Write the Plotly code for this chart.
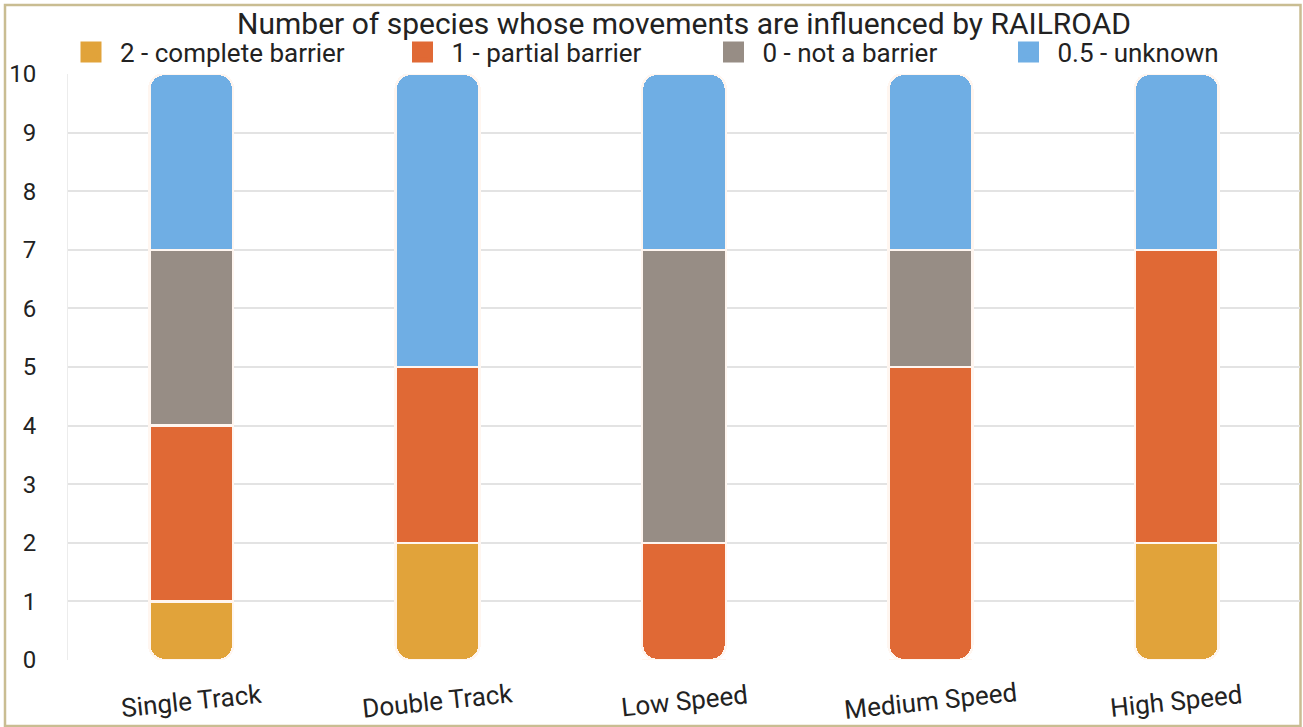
import plotly.graph_objects as go

# Railroad categories and number of species per barrier class
categories = ["Single Track", "Double Track", "Low Speed", "Medium Speed", "High Speed"]
complete_barrier = [1, 2, 0, 0, 2]
partial_barrier = [3, 3, 2, 5, 5]
not_a_barrier = [3, 0, 5, 2, 0]
unknown = [3, 5, 3, 3, 3]

series_names = ["2 - complete barrier", "1 - partial barrier", "0 - not a barrier", "0.5 - unknown"]
series_values = [complete_barrier, partial_barrier, not_a_barrier, unknown]
series_colors = ["#E1A33A", "#E06935", "#978D85", "#6FAEE4"]

y_ticks = list(range(0, 11))
Y_MAX = 10

FONT = "Roboto"
TEXT = "#222222"
BAR_WIDTH = 0.34
SEP_COLOR = "rgba(255,246,240,1)"
SEP_WIDTH = 2.5
CLEAR = "rgba(0,0,0,0)"

# plot area in pixels
W, H = 1303, 727
ML, MR, MT, MB = 68, 3, 74, 67
PW = W - ML - MR
PH = H - MT - MB

fig = go.Figure()
n = len(categories)

# which class opens each column at the bottom
bottom_series = []
for i in range(n):
    for k, vals in enumerate(series_values):
        if vals[i] > 0:
            bottom_series.append(k)
            break

# main stack (rounded at the top); the bottom piece of each column is
# left clear here and drawn by the downward stack below
for k, (name, vals, color) in enumerate(zip(series_names, series_values, series_colors)):
    is_bottom = [bottom_series[i] == k for i in range(n)]
    fig.add_trace(go.Bar(
        x=categories, y=vals, width=BAR_WIDTH,
        marker=dict(
            color=[CLEAR if b else color for b in is_bottom],
            line=dict(color=SEP_COLOR, width=[0 if b else SEP_WIDTH for b in is_bottom]),
        ),
        name=name, showlegend=False, hoverinfo="skip",
        xaxis="x", yaxis="y",
    ))

# downward stack on a reversed twin axis, so the bottom piece is the outer end
bottom_values = [series_values[bottom_series[i]][i] for i in range(n)]
fig.add_trace(go.Bar(
    x=categories, y=[Y_MAX - b for b in bottom_values], width=BAR_WIDTH,
    marker=dict(color=CLEAR, line=dict(width=0)),
    showlegend=False, hoverinfo="skip", xaxis="x", yaxis="y2",
))
for k, (name, vals, color) in enumerate(zip(series_names, series_values, series_colors)):
    yy = [vals[i] if bottom_series[i] == k else None for i in range(n)]
    if all(v is None for v in yy):
        continue
    fig.add_trace(go.Bar(
        x=categories, y=yy, width=BAR_WIDTH,
        marker=dict(color=color, line=dict(color=SEP_COLOR, width=SEP_WIDTH)),
        name=name, showlegend=False, hoverinfo="skip", xaxis="x", yaxis="y2",
    ))

# legend swatches, one legend box per class
legend_centers = [91, 422.5, 733.5, 1028.5]
legend_ids = ["legend", "legend2", "legend3", "legend4"]
for name, color, lid in zip(series_names, series_colors, legend_ids):
    fig.add_trace(go.Scatter(
        x=[None], y=[None], mode="markers", name=name, legend=lid,
        marker=dict(symbol="square", size=16, color=color, line=dict(color=color, width=5)),
    ))

legend_layout = {}
for lid, cx in zip(legend_ids, legend_centers):
    legend_layout[lid] = dict(
        x=(cx - 29 - ML) / PW, xanchor="left", xref="paper",
        y=1 + 22 / PH, yanchor="middle", yref="paper",
        orientation="h", bgcolor=CLEAR, borderwidth=0, itemwidth=48,
        font=dict(family=FONT, size=26, color=TEXT), itemsizing="trace",
    )

# category labels, slightly tilted and centred under each column
annotations = [
    dict(x=c, xref="x", y=-41.5 / PH, yref="paper", text=c, showarrow=False,
         textangle=-6, xanchor="center", yanchor="middle",
         font=dict(family=FONT, size=26, color=TEXT))
    for c in categories
]

fig.update_layout(
    width=W, height=H,
    margin=dict(l=ML, r=MR, t=MT, b=MB, pad=0),
    paper_bgcolor="white", plot_bgcolor="white",
    barmode="stack", barcornerradius=15,
    title=dict(
        text="Number of species whose movements are influenced by RAILROAD",
        x=0.5, xref="paper", xanchor="center",
        y=(H - 23) / H, yref="container", yanchor="middle",
        font=dict(family=FONT, size=30, color=TEXT),
    ),
    font=dict(family=FONT, color=TEXT),
    **legend_layout,
    annotations=annotations,
    xaxis=dict(
        type="category", categoryorder="array", categoryarray=categories,
        range=[-0.5, 4.5], showgrid=False, zeroline=False, showline=False,
        showticklabels=False, ticks="",
    ),
    yaxis=dict(
        range=[0, Y_MAX], tickvals=y_ticks, ticktext=[str(t) for t in y_ticks],
        showgrid=True, gridcolor="#E3E3E3", gridwidth=1.5,
        zeroline=False, showline=True, linecolor="#ECECEC", linewidth=1,
        ticks="", ticklabelstandoff=26,
        tickfont=dict(family=FONT, size=24, color=TEXT),
    ),
    yaxis2=dict(
        overlaying="y", range=[Y_MAX, 0], visible=False,
        showgrid=False, zeroline=False,
    ),
    shapes=[dict(
        type="rect", xref="paper", yref="paper",
        x0=(5 - ML) / PW, x1=(1300.5 - ML) / PW,
        y0=-(726 - MT - PH) / PH, y1=1 + (MT - 5) / PH,
        line=dict(color="#C9BD92", width=2.5), fillcolor=CLEAR,
        layer="below",
    )],
)

fig.write_html("out.html")
